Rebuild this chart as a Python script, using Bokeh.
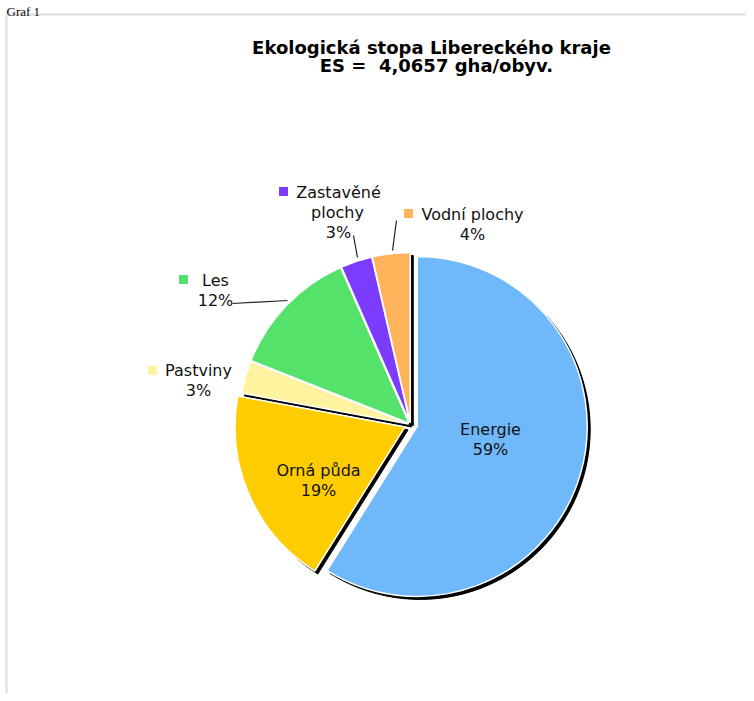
import numpy as np
from bokeh.plotting import figure
from bokeh.models import Range1d, BoxAnnotation, ColumnDataSource
from bokeh.core.properties import value
from bokeh.embed import file_html
from bokeh.resources import INLINE

# ---- data -------------------------------------------------------------
categories = ["Energie", "Orná půda", "Pastviny", "Les", "Zastavěné plochy", "Vodní plochy"]
shares = [58.9, 19.0, 3.1, 12.4, 3.0, 3.6]
pct_labels = ["59%", "19%", "3%", "12%", "3%", "4%"]
title_lines = ["Ekologická stopa Libereckého kraje", "ES =\u00a0 4,0657 gha/obyv."]
caption = "Graf 1"

# ---- styles -----------------------------------------------------------
colors = ["#6fb8fa", "#ffcc00", "#fff3a0", "#55e26b", "#7b3cff", "#ffb45c"]
explode = [7, 6, 2, 2, 2, 2]

W, H = 746, 693
OX, OY = 0, 0  # page offset of the figure


def sx(x):
    return x - OX


def sy(y):
    return H - (y - OY)


cx, cy, R = sx(410), sy(424), 170

p = figure(width=W, height=H, output_backend="svg", toolbar_location=None,
           x_range=Range1d(0, W), y_range=Range1d(0, H), min_border=0)
p.axis.visible = False
p.grid.visible = False
p.outline_line_color = None
p.background_fill_color = "white"

# page frame (left & top edges visible)
p.add_layout(BoxAnnotation(left=sx(6), top=sy(14), right=W + 60, bottom=-60,
                           fill_alpha=0, line_color="#8f8f8f", line_width=2))

# ---- pie ---------------------------------------------------------------
frac = np.array(shares) / sum(shares)
cum = np.concatenate([[0], np.cumsum(frac)]) * 2 * np.pi
t1, t2 = cum[:-1], cum[1:]
mid = (t1 + t2) / 2
ex = np.array(explode, dtype=float)
xs = cx + np.sin(mid) * ex
ys = cy + np.cos(mid) * ex

src = ColumnDataSource(dict(x=xs, y=ys, xs_=xs + 3, ys_=ys - 3,
                            start=np.pi / 2 - t1, end=np.pi / 2 - t2,
                            color=colors, cat=categories))

p.wedge(x="xs_", y="ys_", radius=R, start_angle="start", end_angle="end",
        direction="clock", source=src, fill_color="black", line_color="black",
        line_width=1)
p.wedge(x="x", y="y", radius=R, start_angle="start", end_angle="end",
        direction="clock", source=src, fill_color="color", line_color="white",
        line_width=1.5)

# ---- labels ------------------------------------------------------------
font = value("DejaVu Sans")
# label anchor positions (screen px) for each category's text lines
label_layout = {
    "Energie": [("Energie", 490, 429), ("59%", 490, 449)],
    "Orná půda": [("Orná půda", 318, 470), ("19%", 318, 490)],
    "Pastviny": [("Pastviny", 198, 370), ("3%", 198, 390)],
    "Les": [("Les", 215, 280), ("12%", 215, 300)],
    "Zastavěné plochy": [("Zastavěné", 338, 192), ("plochy", 337, 212), ("3%", 338, 232)],
    "Vodní plochy": [("Vodní plochy", 472, 214), ("4%", 472, 234)],
}
marker_pos = {"Pastviny": (152, 370), "Les": (183, 279),
              "Zastavěné plochy": (283, 191), "Vodní plochy": (408, 213)}
leaders = {"Les": [(232, 303), (287, 300)],
           "Zastavěné plochy": [(353, 235), (357, 257)],
           "Vodní plochy": [(396, 220), (392, 250)]}

tx, ty, tt = [], [], []
for cat, pct in zip(categories, pct_labels):
    for txt, x, y in label_layout[cat]:
        tx.append(sx(x))
        ty.append(sy(y))
        tt.append(txt)
p.text(x=tx, y=ty, text=tt, text_font=font, text_font_size="16px",
       text_align="center", text_baseline="middle", text_color="#111111")

mx = [sx(marker_pos[c][0]) for c in categories if c in marker_pos]
my = [sy(marker_pos[c][1]) for c in categories if c in marker_pos]
mc = [col for c, col in zip(categories, colors) if c in marker_pos]
p.scatter(x=mx, y=my, marker="square", size=9, fill_color=mc, line_color=None)

lx = [[sx(a[0]) for a in leaders[c]] for c in categories if c in leaders]
ly = [[sy(a[1]) for a in leaders[c]] for c in categories if c in leaders]
p.multi_line(xs=lx, ys=ly, line_color="#222222", line_width=1.2)

# ---- title -------------------------------------------------------------
p.text(x=[sx(431), sx(436)], y=[sy(47), sy(65)], text=title_lines,
       text_font=font, text_font_size="18px", text_font_style="bold",
       text_align="center", text_baseline="alphabetic", text_color="black")

# ---- caption above the frame -------------------------------------------
p.text(x=[sx(6)], y=[sy(11)], text=[caption], text_font=value("Liberation Serif"),
       text_font_size="13px", text_align="left", text_baseline="alphabetic",
       text_color="black")

open("out.html", "w").write(file_html(p, INLINE))
